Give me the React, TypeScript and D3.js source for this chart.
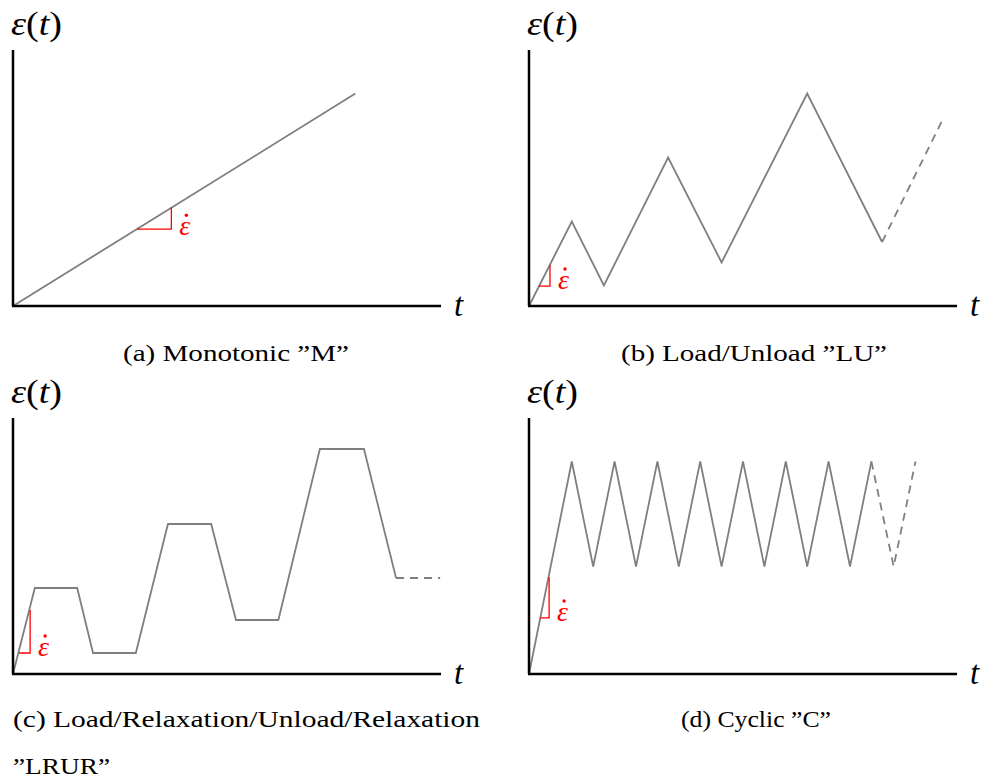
import { scaleLinear, line } from 'd3';

const W = 984;
const H = 781;
const GREY = '#7f7f7f';
const RED = '#ff0000';
const SERIF = "'Liberation Serif', 'DejaVu Serif', serif";

// strain histories, t and eps both on a 0..100 scale
const monoT = [0, 80];
const monoE = [0, 83];

const luT = [0, 10, 17.5, 32.5, 45, 65, 82.5];
const luE = [0, 33, 8, 58, 17, 83, 25];
const luDashT = [82.5, 97];
const luDashE = [25, 74];

const lrurT = [0, 5.1, 15, 18.7, 28.7, 36.2, 46.3, 52.1, 62, 71.7, 82, 89.5];
const lrurE = [0, 33.6, 33.6, 8.2, 8.2, 58.6, 58.6, 21.1, 21.1, 87.9, 87.9, 37.5];
const lrurDashT = [89.5, 99.8];
const lrurDashE = [37.5, 37.5];

const cycT = [0, 10, 15, 20, 25, 30, 35, 40, 45, 50, 55, 60, 65, 70, 75, 80];
const cycE = [0, 83, 42, 83, 42, 83, 42, 83, 42, 83, 42, 83, 42, 83, 42, 83];
const cycDashT = [80, 85.2, 90.3];
const cycDashE = [83, 42, 83];

// slope triangles [t0, t1], [e0, e1]
const slopeT = [[29, 37], [2.3, 4.9], [1.4, 4.0], [2.6, 4.7]];
const slopeE = [[30, 38.5], [7.8, 16], [8.2, 25], [21.9, 37.9]];

const captions = [
  ['(a) Monotonic ”M”'],
  ['(b) Load/Unload ”LU”'],
  ['(c) Load/Relaxation/Unload/Relaxation', '”LRUR”'],
  ['(d) Cyclic ”C”'],
];

interface PanelSpec {
  x0: number;
  y0: number;
  t: number[];
  e: number[];
  dashT?: number[];
  dashE?: number[];
  slope: number;
  cap: { anchor: 'start' | 'middle'; x: number; y: number; widths: number[] };
}

const panels: PanelSpec[] = [
  { x0: 13, y0: 306, t: monoT, e: monoE, slope: 0,
    cap: { anchor: 'middle', x: 236, y: 361, widths: [226] } },
  { x0: 529, y0: 306, t: luT, e: luE, dashT: luDashT, dashE: luDashE, slope: 1,
    cap: { anchor: 'middle', x: 754, y: 361, widths: [266] } },
  { x0: 13, y0: 674, t: lrurT, e: lrurE, dashT: lrurDashT, dashE: lrurDashE, slope: 2,
    cap: { anchor: 'start', x: 13, y: 727, widths: [467, 97] } },
  { x0: 529, y0: 674, t: cycT, e: cycE, dashT: cycDashT, dashE: cycDashE, slope: 3,
    cap: { anchor: 'middle', x: 756, y: 727, widths: [150] } },
];

function Panel({ p, idx }: { p: PanelSpec; idx: number }) {
  const x = scaleLinear().domain([0, 100]).range([p.x0, p.x0 + 428]);
  const y = scaleLinear().domain([0, 100]).range([p.y0, p.y0 - 256]);
  const path = (ts: number[], es: number[]) =>
    line<number>()
      .x((d) => x(d))
      .y((_, i) => y(es[i]))(ts) ?? '';
  const [t0, t1] = slopeT[p.slope];
  const [e0, e1] = slopeE[p.slope];
  const tri = `M${x(t0)},${y(e0)}L${x(t1)},${y(e0)}L${x(t1)},${y(e1)}`;
  const lx = x(t1) + 8;
  const ly = y(e0) + (idx === 0 ? 6 : 3);
  const lines = captions[idx];
  return (
    <g fontFamily={SERIF}>
      <path d={path(p.t, p.e)} fill="none" stroke={GREY} strokeWidth={1.8} />
      {p.dashT && p.dashE && (
        <path d={path(p.dashT, p.dashE)} fill="none" stroke={GREY} strokeWidth={1.8} strokeDasharray="8 6" />
      )}
      <path d={tri} fill="none" stroke={RED} strokeWidth={1.3} />
      <text x={lx} y={ly} fontStyle="italic" fontSize={28} fill={RED}>ε</text>
      <circle cx={lx + 7} cy={ly - 20} r={1.7} fill={RED} />
      <line x1={p.x0} y1={y(0)} x2={p.x0} y2={y(100)} stroke="#000" strokeWidth={2.5} />
      <line x1={p.x0 - 1} y1={y(0)} x2={x(100)} y2={y(0)} stroke="#000" strokeWidth={2.5} />
      <text x={p.x0 - 2} y={y(100) - 15} fontSize={33} textLength={51} lengthAdjust="spacingAndGlyphs">
        <tspan fontStyle="italic">ε</tspan>
        <tspan>(</tspan>
        <tspan fontStyle="italic">t</tspan>
        <tspan>)</tspan>
      </text>
      <text x={x(100) + 13} y={y(0) + 10} fontStyle="italic" fontSize={33}>t</text>
      {lines.map((s, i) => (
        <text
          key={i}
          x={p.cap.x}
          y={p.cap.y + i * 47}
          textAnchor={p.cap.anchor}
          fontSize={24}
          textLength={p.cap.widths[i]}
          lengthAdjust="spacingAndGlyphs"
        >
          {s}
        </text>
      ))}
    </g>
  );
}

export default function App() {
  return (
    <svg
      width={W}
      height={H}
      style={{ position: 'absolute', left: 0, top: 0, background: '#fff' }}
    >
      <rect width={W} height={H} fill="#fff" />
      {panels.map((p, i) => (
        <Panel key={i} p={p} idx={i} />
      ))}
    </svg>
  );
}
